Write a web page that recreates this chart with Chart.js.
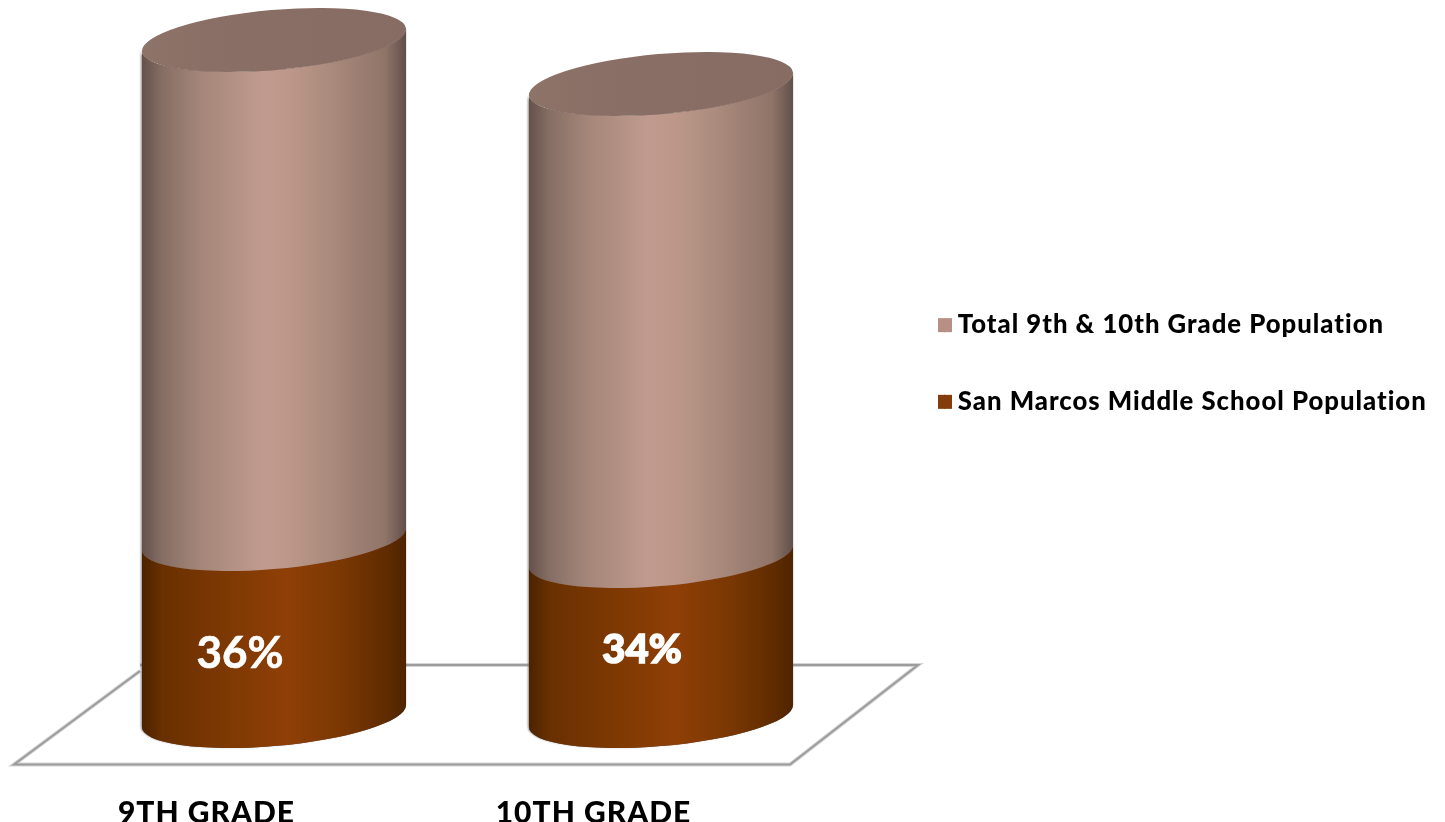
<!DOCTYPE html>
<html><head><meta charset="utf-8">
<style>html,body{margin:0;padding:0;background:#fff}canvas{display:block}</style>
<script src="https://cdn.jsdelivr.net/npm/chart.js@4"></script>
</head><body>
<canvas id="c" width="1445" height="822"></canvas>
<script>
const categories = ['9TH GRADE', '10TH GRADE'];
const sanMarcos = [177, 160];
const totalPopulation = [499, 472];
const percentLabels = ['36%', '34%'];
const seriesNames = ['San Marcos Middle School Population', 'Total 9th & 10th Grade Population'];
const legendColors = ['#843c0c', '#b88f84'];
const FONT = 'Lato';
const brownStops = [[0, '#4a2300'], [0.08, '#6a3001'], [0.33, '#7e3903'], [0.55, '#8f3f06'], [0.75, '#7b3803'], [0.93, '#5f2b00'], [1, '#4d2400']];
const paleStops = [[0, '#63514b'], [0.08, '#866e64'], [0.22, '#a48679'], [0.45, '#c09a8e'], [0.55, '#bd988a'], [0.72, '#a98a7c'], [0.92, '#8f7468'], [1, '#5f4f49']];

function sideGradient(ctx, left, right, stops) {
  const g = ctx.createLinearGradient(left, 0, right, 0);
  stops.forEach(s => g.addColorStop(s[0], s[1]));
  return g;
}

const TILT = -5 * Math.PI / 180, B = 30;
function wall(ctx, cx, a, y0, y1, fill) {
  const t0 = Math.atan(-(B / a) * Math.tan(TILT));
  ctx.beginPath();
  ctx.ellipse(cx, y0, a, B, TILT, t0, t0 + Math.PI, false);
  ctx.ellipse(cx, y1, a, B, TILT, t0 + Math.PI, t0, true);
  ctx.closePath();
  ctx.fillStyle = fill;
  ctx.fill();
}
function cap(ctx, cx, a, y, fill) {
  ctx.beginPath();
  ctx.ellipse(cx, y, a, B, TILT, 0, Math.PI * 2);
  ctx.fillStyle = fill;
  ctx.fill();
}

const cylinders = {
  id: 'cylinders',
  afterLayout(chart) {
    const l = chart.legend, h = l.bottom - l.top;
    l.left = 893;
    l.right = 1445;
    l.top = 363.5 - h / 2;
    l.bottom = 363.5 + h / 2;
  },
  beforeDraw(chart) { chart.ctx.letterSpacing = '1px'; },
  beforeDatasetsDraw(chart) {
    const ctx = chart.ctx;
    ctx.save();
    const path = (pts, color, w) => {
      ctx.beginPath();
      pts.forEach((p, i) => i ? ctx.lineTo(p[0], p[1]) : ctx.moveTo(p[0], p[1]));
      ctx.strokeStyle = color; ctx.lineWidth = w; ctx.stroke();
    };
    const floor = [[140, 671], [14, 764.5], [790, 764.5], [918, 665], [140, 665]];
    path(floor, '#d4d4d4', 4);
    path(floor, '#9c9c9c', 2);
    ctx.restore();

    const m0 = chart.getDatasetMeta(0), m1 = chart.getDatasetMeta(1);
    categories.forEach((_, i) => {
      const lo = m0.data[i], hi = m1.data[i];
      const a = lo.width / 2, cx = lo.x;
      const left = cx - a, right = cx + a;
      ctx.save();
      ctx.shadowColor = 'rgba(120,120,120,.55)';
      ctx.shadowOffsetX = -1.5;
      ctx.shadowBlur = 1.5;
      wall(ctx, cx, a, lo.base, hi.y, '#6a5751');
      ctx.restore();
      wall(ctx, cx, a, lo.base, lo.y, sideGradient(ctx, left, right, brownStops));
      cap(ctx, cx, a, lo.y, '#8a3e08');
      wall(ctx, cx, a, hi.base, hi.y, sideGradient(ctx, left, right, paleStops));
      cap(ctx, cx, a, hi.y, sideGradient(ctx, left, right, [[0, '#8e7369'], [0.25, '#896f65'], [1, '#866c62']]));
    });
  },
  beforeDatasetDraw() { return false; },
  afterDatasetsDraw(chart) {
    const ctx = chart.ctx, m0 = chart.getDatasetMeta(0);
    const opts = [
      { dx: -34, dy: 654, font: `bold 44px ${FONT}`, stroke: 0.6 },
      { dx: -19, dy: 650, font: `900 40px ${FONT}`, stroke: 1.5 }
    ];
    ctx.save();
    ctx.letterSpacing = '0px';
    ctx.textAlign = 'center';
    ctx.textBaseline = 'middle';
    ctx.fillStyle = '#fff';
    ctx.strokeStyle = '#fff';
    percentLabels.forEach((t, i) => {
      const o = opts[i];
      ctx.font = o.font;
      ctx.fillText(t, m0.data[i].x + o.dx, o.dy);
      ctx.lineWidth = o.stroke;
      ctx.strokeText(t, m0.data[i].x + o.dx, o.dy);
    });
    ctx.restore();
  },
  afterDraw(chart) {
    const ctx = chart.ctx, l = chart.legend;
    ctx.save();
    l.legendHitBoxes.forEach((hit, i) => {
      ctx.fillStyle = l.legendItems[i].fillStyle;
      const y = hit.top + hit.height / 2 - 7;
      ctx.fillRect(hit.left - 6, y, 14, 14);
    });
    ctx.restore();
  }
};

new Chart(document.getElementById('c'), {
  type: 'bar',
  data: {
    labels: categories,
    datasets: [
      { label: seriesNames[0], data: sanMarcos, backgroundColor: legendColors[0] },
      { label: seriesNames[1], data: totalPopulation, backgroundColor: legendColors[1] }
    ]
  },
  options: {
    responsive: false,
    animation: false,
    layout: { padding: { left: 80.5, top: 0, right: 190.5, bottom: 0 } },
    datasets: { bar: { categoryPercentage: 1, barPercentage: 0.685 } },
    scales: {
      x: {
        stacked: true,
        grid: { display: false },
        border: { display: false },
        ticks: {
          color: '#000', labelOffset: -67.5, padding: 71, maxRotation: 0, autoSkip: false,
          font: { family: FONT, size: 30, weight: 900 }
        },
        afterFit(axis) { axis.height = 106; }
      },
      y: { stacked: true, display: false, min: 0, max: 716 }
    },
    plugins: {
      tooltip: { enabled: false },
      legend: {
        position: 'right',
        reverse: true,
        maxWidth: 400,
        labels: {
          color: '#000', boxWidth: 1, boxHeight: 14, padding: 51,
          font: { family: FONT, size: 25.7, weight: 900 }
        }
      }
    }
  },
  plugins: [cylinders]
});
</script>
</body></html>
